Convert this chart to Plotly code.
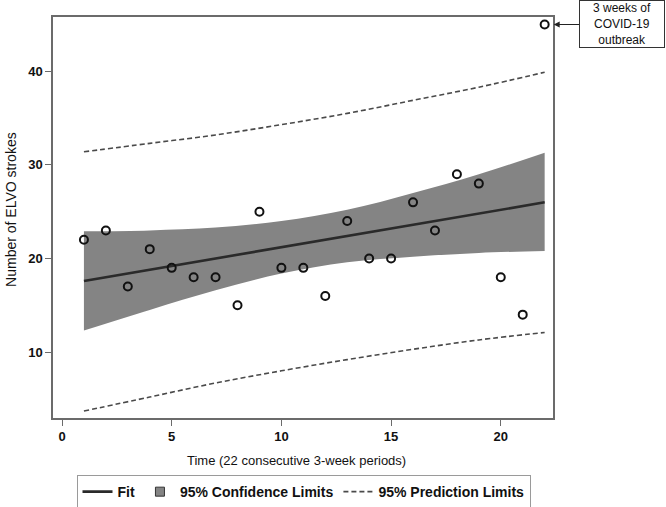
"""ELVO strokes over 22 consecutive 3-week periods with linear fit."""

import plotly.graph_objects as go

# observed counts
periods = [1, 2, 3, 4, 5, 6, 7, 8, 9, 10, 11, 12, 13, 14, 15, 16, 17, 18, 19, 20, 21, 22]
elvo = [22, 23, 17, 21, 19, 18, 18, 15, 25, 19, 19, 16, 24, 20, 20, 26, 23, 29, 28, 18, 14, 45]

# fit / limits
band_x = [1, 4, 7, 10, 13, 16, 19, 22]
fit = [17.6, 18.8, 20.0, 21.2, 22.4, 23.6, 24.8, 26.0]
cl_low = [12.3, 14.5, 16.6, 18.4, 19.6, 20.2, 20.6, 20.8]
cl_high = [22.9, 23.0, 23.3, 24.0, 25.2, 27.0, 29.0, 31.3]
pl_low = [3.7, 5.2, 6.7, 8.0, 9.2, 10.3, 11.3, 12.1]
pl_high = [31.4, 32.3, 33.2, 34.3, 35.5, 36.9, 38.3, 39.9]

x_ticks = [0, 5, 10, 15, 20]
y_ticks = [10, 20, 30, 40]

FONT = "Liberation Sans, Arial, sans-serif"
FRAME = "#6b6b6b"
BAND = "#848484"

fig = go.Figure()

fig.add_trace(go.Scatter(
    x=band_x, y=cl_low, mode="lines", line=dict(width=0, shape="spline"),
    showlegend=False, hoverinfo="skip",
))
fig.add_trace(go.Scatter(
    x=band_x, y=cl_high, mode="lines", line=dict(width=0, shape="spline"),
    fill="tonexty", fillcolor=BAND, showlegend=False,
))
# legend swatch for the band (small square like the original)
fig.add_trace(go.Scatter(
    x=[None], y=[None], mode="markers", name="95% Confidence Limits",
    marker=dict(symbol="square", size=9, color=BAND, line=dict(color="#333333", width=1)),
    legendrank=2,
))
fig.add_trace(go.Scatter(
    x=band_x, y=pl_high, mode="lines",
    line=dict(color="#4a4a4a", width=1.6, dash="5px,3px", shape="spline"),
    name="95% Prediction Limits", legendrank=3,
))
fig.add_trace(go.Scatter(
    x=band_x, y=pl_low, mode="lines",
    line=dict(color="#4a4a4a", width=1.6, dash="5px,3px", shape="spline"),
    showlegend=False,
))
fig.add_trace(go.Scatter(
    x=band_x, y=fit, mode="lines", line=dict(color="#2a2a2a", width=2.6),
    name="Fit", legendrank=1,
))
fig.add_trace(go.Scatter(
    x=periods, y=elvo, mode="markers",
    marker=dict(symbol="circle-open", size=8, color="#111111", line=dict(width=2)),
    showlegend=False,
))

fig.add_annotation(
    x=22, y=45, xref="x", yref="y", ax=77, ay=0,
    text="3 weeks of<br>COVID-19<br>outbreak", showarrow=True,
    arrowhead=2, arrowsize=1, arrowwidth=1.2, arrowcolor="#222222", standoff=9,
    width=82, height=44,
    bordercolor="#333333", borderwidth=1, borderpad=1, bgcolor="white",
    font=dict(family=FONT, size=12, color="#111111"), align="center",
)
fig.add_annotation(
    x=-0.084, y=0.519, xref="paper", yref="paper", showarrow=False,
    xanchor="center", yanchor="middle",
    text="Number of ELVO strokes", textangle=-90,
    font=dict(family=FONT, size=14, color="#111111"),
)
fig.add_annotation(
    x=0.486, y=-0.107, xref="paper", yref="paper", showarrow=False,
    xanchor="center", yanchor="middle",
    text="Time (22 consecutive 3-week periods)",
    font=dict(family=FONT, size=13, color="#111111"),
)

axis_style = dict(
    showgrid=False, zeroline=False, showline=True, mirror=True,
    linecolor=FRAME, linewidth=1.5, ticks="outside", ticklen=6,
    tickcolor=FRAME, tickwidth=1.2,
    tickfont=dict(family=FONT, size=13, color="#111111", weight="bold"),
)

fig.update_layout(
    width=666, height=507,
    margin=dict(l=53, r=113, t=17, b=89),
    plot_bgcolor="white", paper_bgcolor="white",
    font=dict(family=FONT, color="#111111"),
    xaxis=dict(range=[-0.41, 22.38], tickvals=x_ticks, **axis_style),
    yaxis=dict(range=[2.96, 45.8], tickvals=y_ticks, **axis_style),
    legend=dict(
        orientation="h", x=0.501, xanchor="center",
        yref="container", y=0.063, yanchor="top",
        traceorder="normal",
        bordercolor="#9a9a9a", borderwidth=1,
        font=dict(family=FONT, size=14, color="#111111", weight="bold"),
        itemwidth=30, tracegroupgap=0,
    ),
    showlegend=True,
)

# drop the default page margin so the figure sits at the window's corner
fig.write_html(
    "out.html",
    config={"displayModeBar": False},
    post_script="document.body.style.margin='0';",
)
